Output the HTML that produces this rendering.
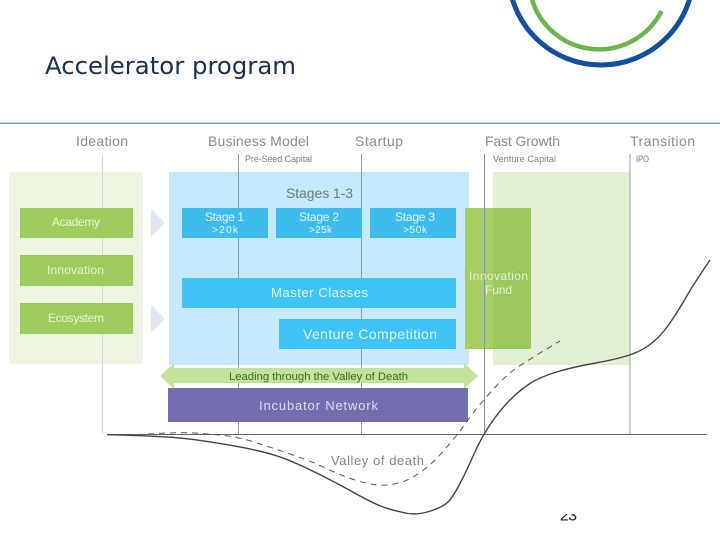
<!DOCTYPE html>
<html>
<head>
<meta charset="utf-8">
<style>
html,body{margin:0;padding:0;background:#fff;width:720px;height:540px;overflow:hidden}
svg{display:block;filter:blur(.3px)}
text{font-family:"Liberation Sans",sans-serif}
.h{font-size:14px;fill:#8a8a8a}
.s{font-size:9px;fill:#7d7d7d}
.w{fill:#e2f5fd}
.g{fill:#e9f4d8}
</style>
</head>
<body>
<svg width="720" height="540" viewBox="0 0 720 540" xmlns="http://www.w3.org/2000/svg">
<defs><clipPath id="c"><rect x="550" y="514" width="40" height="10"/></clipPath></defs>
<circle cx="601" cy="-27.5" r="92.5" fill="none" stroke="#134f9c" stroke-width="5"/>
<path d="M530.6 -6 A70 70 0 0 0 661.5 11" fill="none" stroke="#6db34e" stroke-width="4.5"/>
<text x="45" y="74" font-size="24" fill="#17324f" style="font-family:'DejaVu Sans',sans-serif" textLength="251" lengthAdjust="spacingAndGlyphs">Accelerator program</text>
<rect x="0" y="122.6" width="720" height="1.2" fill="#4f93b8"/>

<rect x="9" y="172" width="134" height="192" fill="#eef5e3"/>
<rect x="169" y="172" width="300" height="193" fill="#c5e8fb"/>
<rect x="493" y="172" width="137" height="193" fill="#e2efd4"/>

<line x1="102.5" y1="155" x2="102.5" y2="434" stroke="#d4d8d0" stroke-width="1"/>
<line x1="238.5" y1="154" x2="238.5" y2="434" stroke="#8e9ba6" stroke-width="1"/>
<line x1="361.5" y1="154" x2="361.5" y2="434" stroke="#8e9ba6" stroke-width="1"/>
<line x1="630" y1="154" x2="630" y2="434" stroke="#bdbdbd" stroke-width="1.5"/>

<rect x="20" y="208" width="113" height="30" fill="#9fcb5c"/>
<rect x="20" y="255" width="113" height="31" fill="#9fcb5c"/>
<rect x="20" y="303" width="113" height="31" fill="#9fcb5c"/>
<polygon points="151,209 165,223 151,237" fill="#dfe8f2"/>
<polygon points="151,305 165,319 151,332" fill="#dfe8f2"/>

<rect x="182" y="208" width="86" height="30" fill="#3fbcee"/>
<rect x="276" y="208" width="86" height="30" fill="#3fbcee"/>
<rect x="370" y="208" width="86" height="30" fill="#3fbcee"/>
<rect x="182" y="278" width="274" height="30" fill="#3fc4f5"/>
<rect x="279" y="319" width="177" height="30" fill="#3fc4f5"/>
<rect x="465" y="208" width="66" height="141" fill="#9ac85c"/>
<rect x="465" y="208" width="28" height="141" fill="#a5cf63"/>
<line x1="484.5" y1="154" x2="484.5" y2="434" stroke="#8f958c" stroke-width="1"/>

<polygon points="160,376 174,363 174,368 464,368 464,363 478,376 464,389 464,383 174,383 174,389" fill="#c5e29c"/>
<rect x="168" y="388" width="300" height="34" fill="#736eb0"/>

<line x1="107" y1="434.5" x2="707" y2="434.5" stroke="#666" stroke-width="1"/>
<path d="M107 434.7 Q167 436 192 439.3 Q217 442.7 238.5 446.7 Q260 450.7 275 455.3 Q290 460 311.5 470.5 Q333 481 350 490.5 Q367 500 377 504.5 Q387 509 401 512 Q415 516 429 511.5 Q443 507 448 502 Q453 497 460 483.5 Q467 470 474 454 Q481 438 490.5 424 Q500 410 510 400 Q520 390 530 383.5 Q540 377 556.5 372 Q573 367 593 363.5 Q613 360 626.5 356 Q640 352 650 344.5 Q660 337 668.5 325 Q677 313 685 299 Q693 285 710 260" fill="none" stroke="#444" stroke-width="1.4"/>
<path d="M137 434.7 Q177 432 193.5 433 Q210 434 224 435.5 Q238 437 255.5 442.5 Q273 448 293 455 Q313 462 326.5 468.5 Q340 475 353.5 479.5 Q367 484 377 485 Q387 486 398.5 483 Q410 480 421.5 471.5 Q433 463 443 451.5 Q453 440 458 433.5 Q463 427 469 418.5 Q475 410 489 394 Q503 378 513 370.5 Q523 363 560 341" fill="none" stroke="#555" stroke-width="1" stroke-dasharray="6 5"/>

<text class="h" x="76" y="146" textLength="52">Ideation</text>
<text class="h" x="208" y="146" textLength="101">Business Model</text>
<text class="h" x="355" y="146" textLength="48">Startup</text>
<text class="h" x="485" y="146" textLength="75">Fast Growth</text>
<text class="h" x="630" y="146" textLength="65">Transition</text>
<text class="s" x="245" y="162" textLength="67">Pre-Seed Capital</text>
<text class="s" x="493" y="162" textLength="63">Venture Capital</text>
<text class="s" x="636" y="162" textLength="13" lengthAdjust="spacingAndGlyphs">IPO</text>
<text x="286" y="198" font-size="14" fill="#6f7c86" textLength="67">Stages 1-3</text>

<text class="w" x="205" y="221" font-size="12" textLength="39">Stage 1</text>
<text class="w" x="212" y="233" font-size="10" textLength="26">&gt;20k</text>
<text class="w" x="299" y="221" font-size="12" textLength="40">Stage 2</text>
<text class="w" x="309" y="233" font-size="10" textLength="23">&gt;25k</text>
<text class="w" x="395" y="221" font-size="12" textLength="40">Stage 3</text>
<text class="w" x="403" y="233" font-size="10" textLength="24">&gt;50k</text>

<text class="g" x="52" y="226" font-size="12" textLength="48">Academy</text>
<text class="g" x="47" y="274" font-size="12" textLength="57">Innovation</text>
<text class="g" x="48" y="322" font-size="12" textLength="56">Ecosystem</text>

<text class="w" x="271" y="297" font-size="13" textLength="97">Master Classes</text>
<text class="w" x="303" y="339" font-size="14" textLength="134">Venture Competition</text>
<text class="g" x="469" y="280" font-size="12" textLength="59">Innovation</text>
<text class="g" x="485" y="294" font-size="12" textLength="27">Fund</text>

<text x="229" y="380" font-size="11" fill="#3d6b1f" textLength="179" lengthAdjust="spacingAndGlyphs">Leading through the Valley of Death</text>
<text x="259" y="410" font-size="13" fill="#dcdaf0" textLength="119">Incubator Network</text>
<text x="331" y="465" font-size="13" fill="#858585" textLength="93">Valley of death</text>
<g clip-path="url(#c)"><text x="560" y="520.5" font-size="16" fill="#222" textLength="17">23</text></g>
</svg>
</body>
</html>
